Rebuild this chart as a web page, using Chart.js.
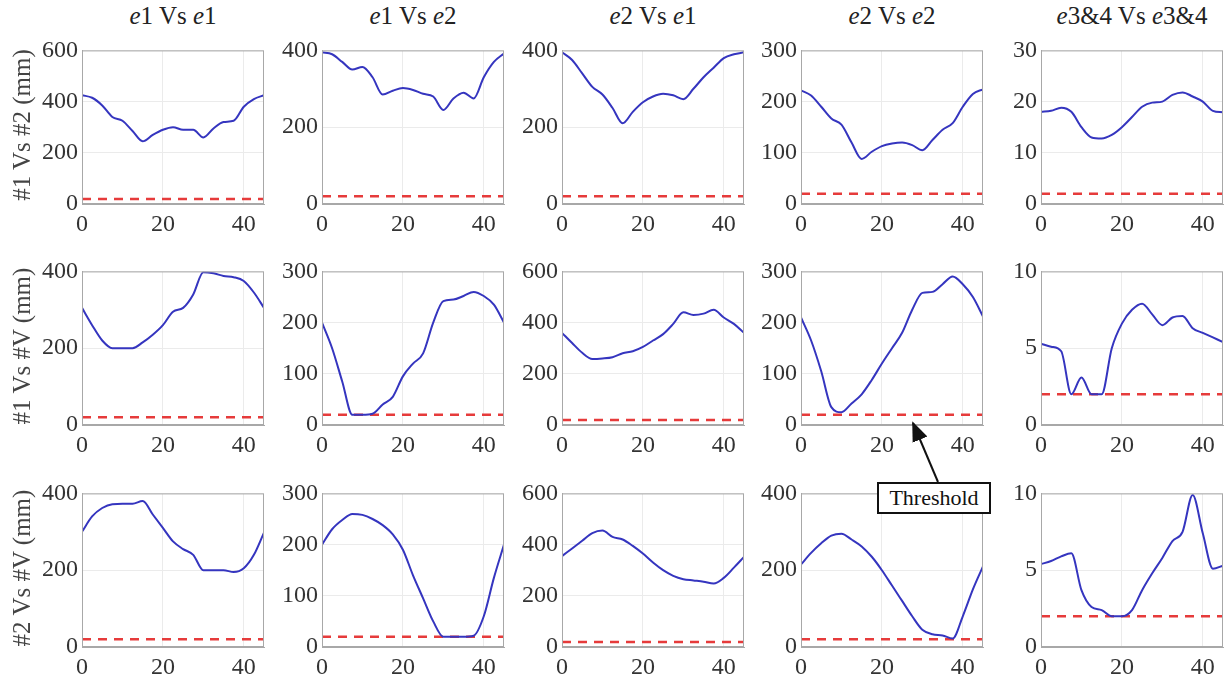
<!DOCTYPE html>
<html>
<head>
<meta charset="utf-8">
<script src="https://cdn.jsdelivr.net/npm/chart.js@4.4.1/dist/chart.umd.min.js"></script>
<style>
  body { margin: 0; background: #fff; width: 1231px; height: 683px; position: relative; overflow: hidden;
         font-family: "Liberation Serif", "Times New Roman", "DejaVu Serif", serif; }
  canvas { position: absolute; }
  .ttl { position: absolute; width: 240px; text-align: center; font-size: 25px; color: #222; line-height: 30px; }
  .ylab { position: absolute; width: 240px; text-align: center; font-size: 25px; color: #444; line-height: 30px;
          transform: rotate(-90deg); transform-origin: center center; }
  .note { position: absolute; left: 877px; top: 482px; width: 110px; height: 28px; border: 2px solid #111;
          font-size: 22px; text-align: center; line-height: 28px; color: #111; background: #fff; }
  svg { position: absolute; left: 0; top: 0; }
</style>
</head>
<body>
<script>
// x positions (angle) shared by all panels
const xs = [0, 2.5, 5, 7.5, 10, 12.5, 15, 17.5, 20, 22.5, 25, 27.5, 30, 32.5, 35, 37.5, 40, 42.5, 45];
const xTicks = [0, 20, 40];

const colTitles = ['<i>e</i>1 Vs <i>e</i>1', '<i>e</i>1 Vs <i>e</i>2', '<i>e</i>2 Vs <i>e</i>1', '<i>e</i>2 Vs <i>e</i>2', '<i>e</i>3&amp;4 Vs <i>e</i>3&amp;4'];
const rowTitles = ['#1 Vs #2 (mm)', '#1 Vs #V (mm)', '#2 Vs #V (mm)'];

// threshold per column
const thresholds = [20, 20, 20, 20, 2];

// y axis max and step per panel [row][col]
const yMax = [[600, 400, 400, 300, 30], [400, 300, 600, 300, 10], [400, 300, 600, 400, 10]];
const yStep = [[200, 200, 200, 100, 10], [200, 100, 200, 100, 5], [200, 100, 200, 200, 5]];

// row 1: #1 Vs #2
const r1c1 = [425, 415, 385, 340, 325, 285, 245, 270, 290, 300, 290, 290, 260, 295, 320, 325, 380, 410, 425];
const r1c2 = [395, 390, 370, 350, 357, 330, 285, 295, 302, 297, 287, 280, 245, 275, 290, 275, 330, 370, 392];
const r1c3 = [395, 375, 340, 305, 285, 250, 210, 240, 265, 280, 287, 283, 273, 300, 330, 355, 380, 390, 395];
const r1c4 = [222, 212, 190, 167, 155, 120, 88, 102, 113, 118, 120, 115, 105, 125, 145, 158, 190, 215, 224];
const r1c5 = [18, 18.2, 18.8, 18, 15, 13, 12.8, 13.5, 15, 17, 19, 19.8, 20, 21.3, 21.8, 21, 20, 18.2, 17.9];

// row 2: #1 Vs #V
const r2c1 = [305, 260, 220, 200, 200, 200, 215, 235, 260, 295, 305, 340, 398, 395, 388, 385, 375, 345, 305];
const r2c2 = [200, 150, 85, 20, 20, 22, 40, 55, 95, 120, 140, 200, 242, 245, 252, 260, 252, 235, 200];
const r2c3 = [360, 320, 282, 258, 260, 265, 280, 288, 305, 330, 355, 395, 440, 430, 435, 450, 420, 395, 360];
const r2c4 = [210, 165, 105, 35, 25, 42, 60, 88, 120, 150, 180, 225, 258, 260, 275, 290, 275, 250, 212];
const r2c5 = [5.3, 5.1, 4.8, 2.0, 3.1, 2.0, 2.0, 5.0, 6.6, 7.5, 7.9, 7.2, 6.5, 7.0, 7.1, 6.3, 6.0, 5.7, 5.4];

// row 3: #2 Vs #V
const r3c1 = [300, 340, 362, 372, 373, 373, 380, 345, 310, 275, 255, 240, 200, 200, 200, 195, 205, 240, 298];
const r3c2 = [200, 230, 248, 260, 258, 250, 238, 220, 190, 140, 95, 50, 20, 20, 20, 22, 60, 135, 200];
const r3c3 = [355, 385, 415, 445, 455, 430, 420, 395, 365, 330, 300, 278, 265, 260, 255, 248, 270, 310, 352];
const r3c4 = [215, 245, 270, 290, 295, 280, 262, 235, 200, 160, 120, 80, 45, 33, 30, 22, 80, 150, 210];
const r3c5 = [5.4, 5.6, 5.9, 6.1, 3.7, 2.6, 2.4, 2.0, 2.0, 2.4, 3.7, 4.8, 5.8, 6.9, 7.5, 9.9, 7.4, 5.1, 5.3];

const series = [[r1c1, r1c2, r1c3, r1c4, r1c5], [r2c1, r2c2, r2c3, r2c4, r2c5], [r3c1, r3c2, r3c3, r3c4, r3c5]];

// plot area placement
const colLeft = [82, 322, 562, 801, 1041];
const rowTop = [46, 267, 489];
const plotW = 182, plotH = 158;
const padL = 64, padT = 14, padR = 10, padB = 40;

const tickFont = { family: '"Liberation Serif", "Times New Roman", "DejaVu Serif", serif', size: 24 };

// draws the full grey box round the plot
const boxPlugin = {
    id: 'box',
    afterDraw(chart) {
        const a = chart.chartArea, ctx = chart.ctx;
        ctx.save();
        ctx.strokeStyle = '#a8a8a8';
        ctx.lineWidth = 1;
        ctx.strokeRect(a.left + 0.5, a.top + 0.5, a.right - a.left - 1, a.bottom - a.top - 1);
        ctx.restore();
    }
};

function makePanel(r, c) {
    const cv = document.createElement('canvas');
    cv.width = padL + plotW + padR;
    cv.height = padT + plotH + padB;
    cv.style.left = (colLeft[c] - padL) + 'px';
    cv.style.top = (rowTop[r] - padT) + 'px';
    document.body.appendChild(cv);

    const th = thresholds[c];
    new Chart(cv, {
        type: 'line',
        data: {
            datasets: [{
                data: xs.map((x, i) => ({ x: x, y: series[r][c][i] })),
                borderColor: '#3535bf',
                borderWidth: 2,
                pointRadius: 0,
                cubicInterpolationMode: 'monotone'
            }, {
                data: [{ x: 0, y: th }, { x: 45, y: th }],
                borderColor: '#e63b3b',
                borderWidth: 2.5,
                borderDash: [9, 7],
                pointRadius: 0
            }]
        },
        options: {
            responsive: false,
            animation: false,
            devicePixelRatio: 1,
            layout: { padding: { top: padT, right: padR, left: 0, bottom: 0 } },
            plugins: { legend: { display: false }, tooltip: { enabled: false } },
            scales: {
                x: {
                    type: 'linear', min: 0, max: 45,
                    afterFit: s => { s.height = padB; },
                    afterBuildTicks: s => { s.ticks = xTicks.map(v => ({ value: v })); },
                    ticks: { font: tickFont, color: '#333', padding: 6, maxRotation: 0, autoSkip: false },
                    grid: { color: '#ebebeb', drawTicks: false },
                    border: { color: '#a8a8a8' }
                },
                y: {
                    min: 0, max: yMax[r][c],
                    afterFit: s => { s.width = padL; },
                    ticks: { stepSize: yStep[r][c], font: tickFont, color: '#333', padding: 4 },
                    grid: { color: '#ebebeb', drawTicks: false },
                    border: { color: '#a8a8a8' }
                }
            }
        },
        plugins: [boxPlugin]
    });
}

for (let r = 0; r < 3; r++) {
    for (let c = 0; c < 5; c++) makePanel(r, c);
}

// column titles
colTitles.forEach((t, c) => {
    const d = document.createElement('div');
    d.className = 'ttl';
    d.innerHTML = t;
    d.style.left = (colLeft[c] + plotW / 2 - 120) + 'px';
    d.style.top = '1px';
    document.body.appendChild(d);
});

// row axis titles
rowTitles.forEach((t, r) => {
    const d = document.createElement('div');
    d.className = 'ylab';
    d.textContent = t;
    d.style.left = (22 - 120) + 'px';
    d.style.top = (rowTop[r] + plotH / 2 - 15) + 'px';
    document.body.appendChild(d);
});

// threshold note with arrow
const note = document.createElement('div');
note.className = 'note';
note.textContent = 'Threshold';
document.body.appendChild(note);
document.body.insertAdjacentHTML('beforeend',
    '<svg width="1231" height="683"><defs><marker id="ah" markerWidth="10" markerHeight="10" refX="9" refY="5" orient="auto">' +
    '<path d="M0,1 L10,5 L0,9 z" fill="#111"/></marker></defs>' +
    '<line x1="938" y1="482" x2="913" y2="423" stroke="#111" stroke-width="2" marker-end="url(#ah)"/></svg>');
</script>
</body>
</html>
